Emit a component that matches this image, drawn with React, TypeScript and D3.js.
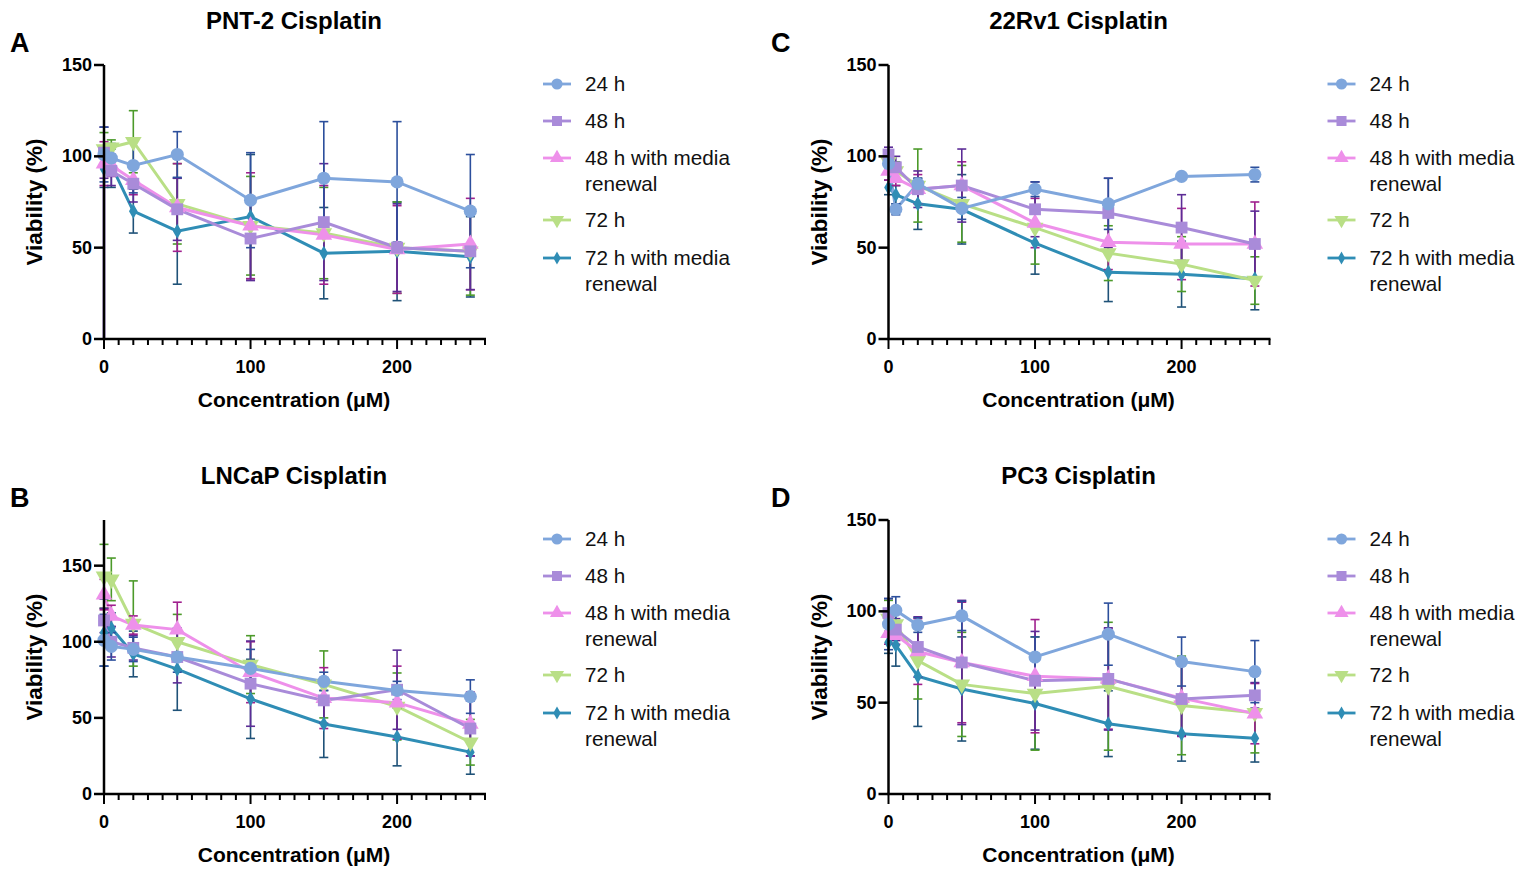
import React from 'react';
import * as d3 from 'd3';

// ---------- data ----------
const concentrations = [0, 5, 20, 50, 100, 150, 200, 250];
const seriesKeys = ['24 h', '48 h', '48 h with media renewal', '72 h', '72 h with media renewal'];
const legendLabels = [['24 h'], ['48 h'], ['48 h with media', 'renewal'], ['72 h'], ['72 h with media', 'renewal']];
const lineColors = ['#7fa6dc', '#a98bd9', '#ee90ea', '#b9df86', '#2f8db5'];
const errorColors = ['#2c4f9c', '#5c2c96', '#a0208e', '#4c9a2a', '#1f5278'];
const symbolNames = ['circle', 'square', 'triangleUp', 'triangleDown', 'diamond'];
const xTicksMajor = [0, 100, 200];
const xTicksMinor = d3.range(0, 261, 10);

// PNT-2
const pnt2Mean = [
  [101, 99, 95, 101, 76, 88, 86, 70],
  [102, 92, 85, 71, 55, 64, 50, 48],
  [96, 95, 87, 72, 62, 57, 49, 52],
  [104, 105, 108, 74, 62, 58, 50, 48],
  [93, 95, 70, 59, 67, 47, 48, 45],
];
const pnt2Sd = [
  [15, 5, 15, 12.5, 26, 31, 33, 31],
  [14, 8, 10, 17, 23, 32, 24, 21],
  [12, 6, 8, 24, 29, 27, 24, 25],
  [9, 4, 17, 22, 27, 25, 25, 24],
  [10, 12, 12, 29, 34, 25, 27, 22],
];
const pnt2Start48 = 0; // 48 h trace starts at 0 % on the y-axis

// LNCaP
const lncapMean = [
  [101, 97, 95, 90, 82.5, 74, 68, 64],
  [114, 100, 96, 90, 72.5, 61.5, 68.5, 43],
  [131, 117, 111, 108, 80, 63, 60, 46],
  [143, 141, 112, 100, 85, 72, 57.5, 34],
  [106, 109, 92, 82, 62.5, 46, 37.5, 27.5],
];
const lncapSd = [
  [17, 9, 8, 10, 12.5, 6, 6, 11],
  [8, 10, 8, 17, 28, 15, 26, 18],
  [10, 7, 6, 18, 20, 20, 24, 21],
  [21, 14, 28, 18, 19, 22, 22, 15],
  [22, 10, 15, 27, 26, 22, 19, 14.5],
];

// 22Rv1
const rv1Mean = [
  [96, 71, 85, 71.5, 82, 74, 89, 90],
  [101, 94, 82, 84, 71, 69, 61, 52],
  [92, 88, 82, 84, 63.5, 53, 52, 52],
  [97, 92, 84, 74, 61, 47, 41, 32],
  [83, 79, 74, 71, 52.5, 36.5, 35.5, 33],
];
const rv1Sd = [
  [4, 3, 3, 6, 4, 14, 2, 4],
  [4, 6, 10, 20, 15, 19, 18, 18],
  [5, 4, 8, 13, 13.5, 15, 19.5, 23],
  [3, 5, 20, 21, 20, 15, 15, 13],
  [4, 5, 14, 19, 17, 16, 18, 17],
];

// PC3
const pc3Mean = [
  [93, 100.5, 92.5, 97.5, 75, 87.5, 72.5, 67],
  [99, 90, 80.5, 72, 62, 63, 52, 54],
  [88, 87, 78, 72, 64.5, 63, 52.5, 44],
  [96, 93, 73, 60, 55, 59, 48.5, 44.5],
  [83, 81.5, 64.5, 57.5, 49.5, 38.5, 33, 30.5],
];
const pc3Sd = [
  [14, 7.5, 4, 8, 11, 17, 13.4, 17],
  [8, 6, 16.5, 34, 27, 28, 20, 7],
  [6, 5, 18, 33, 31, 27.5, 21, 16.5],
  [10, 6, 21, 28.5, 31, 35, 27, 22],
  [6, 11.5, 27.5, 28.5, 25, 18, 15, 13],
];

const FONT = '"Liberation Sans", Arial, Helvetica, sans-serif';

function symbolPath(name: string): string {
  const gen = d3.symbol();
  if (name === 'circle') return gen.type(d3.symbolCircle).size(135)() as string;
  if (name === 'square') return gen.type(d3.symbolSquare).size(140)() as string;
  if (name === 'triangleUp' || name === 'triangleDown') return gen.type(d3.symbolTriangle).size(120)() as string;
  return gen.type(d3.symbolDiamond).size(65)() as string;
}

type PanelProps = {
  x0: number; yBottom: number; height: number; yMax: number; yTicks: number[];
  title: string; letter: string; letterX: number;
  means: number[][]; sds: number[][]; start48?: number;
};

function Panel(p: PanelProps) {
  const xs = d3.scaleLinear().domain([0, 260]).range([p.x0, p.x0 + 381]);
  const ys = d3.scaleLinear().domain([0, p.yMax]).range([p.yBottom, p.yBottom - p.height]);
  const top = p.yBottom - p.height;
  const line = d3.line<[number, number]>().x(d => xs(d[0])).y(d => ys(d[1]));
  const order = [4, 3, 2, 1, 0];
  const cx = p.x0 + 190;
  return (
    <g>
      <text x={cx} y={top - 36} textAnchor="middle" fontFamily={FONT} fontWeight="bold" fontSize={24}>{p.title}</text>
      <text x={p.letterX} y={top - 13} fontFamily={FONT} fontWeight="bold" fontSize={27}>{p.letter}</text>
      {/* lines */}
      {order.map(si => {
        const pts: [number, number][] = concentrations.map((c, i) => [c, p.means[si][i]]);
        if (si === 1 && p.start48 !== undefined) pts.unshift([0, p.start48]);
        return <path key={'l' + si} d={line(pts) as string} fill="none" stroke={lineColors[si]} strokeWidth={3} />;
      })}
      {/* error bars */}
      {order.map(si => (
        <g key={'e' + si} stroke={errorColors[si]} strokeWidth={1.6}>
          {concentrations.map((c, i) => {
            const x = xs(c);
            const y1 = ys(p.means[si][i] + p.sds[si][i]);
            const y2 = ys(Math.max(0, p.means[si][i] - p.sds[si][i]));
            return (
              <g key={i}>
                <line x1={x} x2={x} y1={y1} y2={y2} />
                <line x1={x - 4.5} x2={x + 4.5} y1={y1} y2={y1} />
                <line x1={x - 4.5} x2={x + 4.5} y1={y2} y2={y2} />
              </g>
            );
          })}
        </g>
      ))}
      {/* markers */}
      {order.map(si => (
        <g key={'m' + si} fill={lineColors[si]}>
          {concentrations.map((c, i) => (
            <path key={i} d={symbolPath(symbolNames[si])}
              transform={`translate(${xs(c)},${ys(p.means[si][i])})${symbolNames[si] === 'triangleDown' ? ' rotate(180)' : ''}`} />
          ))}
        </g>
      ))}
      {/* y axis */}
      <line x1={p.x0} x2={p.x0} y1={top} y2={p.yBottom + 1} stroke="#000" strokeWidth={2.5} />
      {p.yTicks.map(t => (
        <g key={'yt' + t}>
          <line x1={p.x0 - 10} x2={p.x0} y1={ys(t)} y2={ys(t)} stroke="#000" strokeWidth={2.5} />
          <text x={p.x0 - 12} y={ys(t) + 6} textAnchor="end" fontFamily={FONT} fontWeight="bold" fontSize={18}>{t}</text>
        </g>
      ))}
      {/* x axis */}
      <line x1={p.x0 - 1} x2={xs(260) + 1} y1={p.yBottom} y2={p.yBottom} stroke="#000" strokeWidth={2.5} />
      {xTicksMinor.map(t => (
        <line key={'xm' + t} x1={xs(t)} x2={xs(t)} y1={p.yBottom} y2={p.yBottom + (xTicksMajor.includes(t) ? 10 : 6)} stroke="#000" strokeWidth={2} />
      ))}
      {xTicksMajor.map(t => (
        <text key={'xl' + t} x={xs(t)} y={p.yBottom + 34} textAnchor="middle" fontFamily={FONT} fontWeight="bold" fontSize={18}>{t}</text>
      ))}
      <text x={cx} y={p.yBottom + 68} textAnchor="middle" fontFamily={FONT} fontWeight="bold" fontSize={21}>Concentration (μM)</text>
      <text transform={`translate(${p.x0 - 62},${(top + p.yBottom) / 2}) rotate(-90)`} textAnchor="middle" fontFamily={FONT} fontWeight="bold" fontSize={22.5}>Viability (%)</text>
      {/* legend */}
      {legendLabels.map((lines, si) => {
        const rowY = [19, 56, 93, 155, 193][si] + top;
        const lx = p.x0 + 439;
        return (
          <g key={'lg' + si}>
            <line x1={lx} x2={lx + 28} y1={rowY} y2={rowY} stroke={lineColors[si]} strokeWidth={2.8} />
            <path d={symbolPath(symbolNames[si])} fill={lineColors[si]} transform={`translate(${lx + 14},${rowY}) scale(0.85)${symbolNames[si] === 'triangleDown' ? ' rotate(180)' : ''}`} />
            {lines.map((t, k) => (
              <text key={k} x={p.x0 + 481} y={rowY + 7 + k * 25.5} fontFamily={FONT} fontSize={20.7} fill="#111">{t}</text>
            ))}
          </g>
        );
      })}
    </g>
  );
}

export default function App() {
  return (
    <svg width={1528} height={869} style={{ position: 'absolute', left: 0, top: 0, background: '#fff' }}>
      <rect width={1528} height={869} fill="#fff" />
      <Panel x0={104} yBottom={339} height={274} yMax={150} yTicks={[0, 50, 100, 150]}
        title="PNT-2 Cisplatin" letter="A" letterX={10} means={pnt2Mean} sds={pnt2Sd} start48={pnt2Start48} />
      <Panel x0={888.5} yBottom={339} height={274} yMax={150} yTicks={[0, 50, 100, 150]}
        title="22Rv1 Cisplatin" letter="C" letterX={771} means={rv1Mean} sds={rv1Sd} />
      <Panel x0={104} yBottom={794} height={274} yMax={180} yTicks={[0, 50, 100, 150]}
        title="LNCaP Cisplatin" letter="B" letterX={10} means={lncapMean} sds={lncapSd} />
      <Panel x0={888.5} yBottom={794} height={274} yMax={150} yTicks={[0, 50, 100, 150]}
        title="PC3 Cisplatin" letter="D" letterX={771} means={pc3Mean} sds={pc3Sd} />
    </svg>
  );
}
